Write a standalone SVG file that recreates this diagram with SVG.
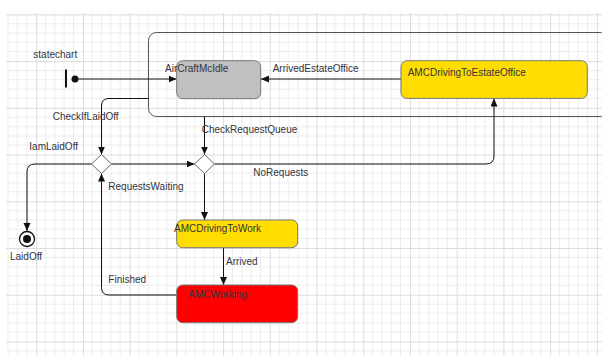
<svg xmlns="http://www.w3.org/2000/svg" width="602" height="356" viewBox="0 0 602 356">
<style>
.lbl{font-family:"Liberation Sans",Arial,sans-serif;font-size:10px;fill:#333340}
.st{stroke:#777;stroke-width:1}
.con{fill:none;stroke:#111;stroke-width:1}
.dia{fill:#fff;stroke:#666;stroke-width:1}
</style>
<defs>
<marker id="arr" markerUnits="userSpaceOnUse" markerWidth="9" markerHeight="8" refX="8" refY="3.5" orient="auto">
<path d="M0,0 L8,3.5 L0,7 z" fill="#111"/>
</marker>
<pattern id="grid" patternUnits="userSpaceOnUse" x="36.2" y="14.4" width="46.72" height="46.72">
<g stroke="#ececec" stroke-width="1">
<line x1="9.344" y1="0" x2="9.344" y2="46.72"/>
<line x1="18.688" y1="0" x2="18.688" y2="46.72"/>
<line x1="28.032" y1="0" x2="28.032" y2="46.72"/>
<line x1="37.376" y1="0" x2="37.376" y2="46.72"/>
<line y1="9.344" x1="0" y2="9.344" x2="46.72"/>
<line y1="18.688" x1="0" y2="18.688" x2="46.72"/>
<line y1="28.032" x1="0" y2="28.032" x2="46.72"/>
<line y1="37.376" x1="0" y2="37.376" x2="46.72"/>
</g>
<g stroke="#dcdcdc" stroke-width="1">
<line x1="0.5" y1="0" x2="0.5" y2="46.72"/>
<line y1="0.5" x1="0" y2="0.5" x2="46.72"/>
</g>
</pattern>
</defs>
<rect width="602" height="356" fill="#fff"/>
<rect x="6" y="13" width="596" height="343" fill="url(#grid)"/>

<g id="composite">
<rect x="148.5" y="32.5" width="460" height="84" rx="8" fill="none" stroke="#555" stroke-width="1"/>
</g>

<g id="connectors">
<path class="con" d="M78,79 H176.5" marker-end="url(#arr)"/>
<path class="con" d="M401,79 H261" marker-end="url(#arr)"/>
<path class="con" d="M148.5,98.5 H109 Q101.5,98.5 101.5,106 V154.5" marker-end="url(#arr)"/>
<path class="con" d="M204.5,116.7 V154.5" marker-end="url(#arr)"/>
<path class="con" d="M111.5,164 H194.5" marker-end="url(#arr)"/>
<path class="con" d="M91.5,164 H35 Q27,164 27,172 V231" marker-end="url(#arr)"/>
<path class="con" d="M214.5,164 H486 Q494,164 494,156 V98.5" marker-end="url(#arr)"/>
<path class="con" d="M204.5,173.5 V220" marker-end="url(#arr)"/>
<path class="con" d="M223.5,247.7 V285" marker-end="url(#arr)"/>
<path class="con" d="M176.7,295 H109 Q101.5,295 101.5,287.5 V173.5" marker-end="url(#arr)"/>
</g>

<g id="initial">
<rect x="65" y="69.5" width="2" height="18" fill="#111"/>
<circle cx="75" cy="79" r="3.5" fill="#111"/>
<text class="lbl" x="33.3" y="58.3">statechart</text>
</g>

<g id="AirCraftMcIdle">
<rect class="st" x="176.7" y="60.7" width="84" height="38" rx="6" fill="#c0c0c0"/>
<text class="lbl" x="165" y="72.3">AirCraftMcIdle</text>
</g>

<g id="AMCDrivingToEstateOffice">
<rect class="st" x="401" y="60.7" width="186.3" height="37.7" rx="6" fill="#ffdd00"/>
<text class="lbl" x="407.7" y="76">AMCDrivingToEstateOffice</text>
</g>

<g id="branch1">
<polygon class="dia" points="101.5,154.5 111.5,164 101.5,173.5 91.5,164"/>
</g>
<g id="branch2">
<polygon class="dia" points="204.5,154.5 214.5,164 204.5,173.5 194.5,164"/>
</g>

<g id="LaidOff">
<circle cx="27" cy="239" r="7.5" fill="#fff" stroke="#111" stroke-width="1.3"/>
<circle cx="27" cy="239" r="4" fill="#111"/>
<text class="lbl" x="10" y="260">LaidOff</text>
</g>

<g id="AMCDrivingToWork">
<rect class="st" x="176.7" y="220" width="121" height="27.7" rx="6" fill="#ffdd00"/>
<text class="lbl" x="174" y="232">AMCDrivingToWork</text>
</g>

<g id="AMCWorking">
<rect class="st" x="176.7" y="285" width="121" height="37.7" rx="6" fill="#ff0000"/>
<text class="lbl" x="188.3" y="297.5">AMCWorking</text>
</g>

<g id="labels">
<text class="lbl" x="272.7" y="72.3">ArrivedEstateOffice</text>
<text class="lbl" x="52.7" y="119.5">CheckIfLaidOff</text>
<text class="lbl" x="201.7" y="132.5">CheckRequestQueue</text>
<text class="lbl" x="29.3" y="150">IamLaidOff</text>
<text class="lbl" x="253.3" y="176">NoRequests</text>
<text class="lbl" x="108.3" y="190">RequestsWaiting</text>
<text class="lbl" x="226" y="265">Arrived</text>
<text class="lbl" x="108.3" y="283">Finished</text>
</g>
</svg>
